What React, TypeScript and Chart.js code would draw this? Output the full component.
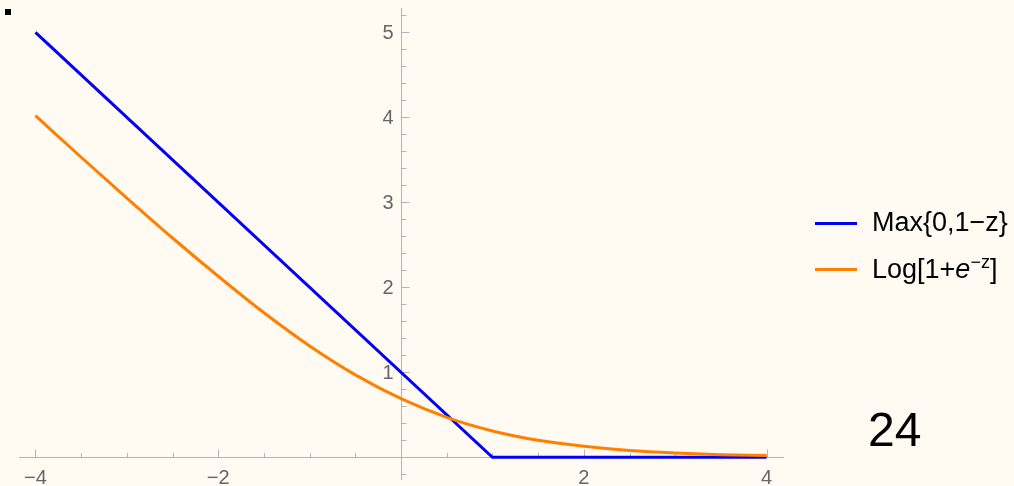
import React, { useEffect, useRef } from "react";
import { Chart, registerables } from "chart.js";

Chart.register(...registerables);

// ---- data ----
const hingeZ = [-4, 1, 4];
const hingeLoss = [5, 0, 0];
const logZ = [-4, -3.5, -3, -2.5, -2, -1.5, -1, -0.5, 0, 0.5, 1, 1.5, 2, 2.5, 3, 3.5, 4];
const logLoss = [4.02, 3.53, 3.05, 2.58, 2.13, 1.7, 1.31, 0.97, 0.69, 0.47, 0.31, 0.2, 0.13, 0.08, 0.05, 0.03, 0.02];
const xMajorTicks = [-4, -2, 2, 4];
const xMinorTicks = [-3.5, -3, -2.5, -1.5, -1, -0.5, 0.5, 1, 1.5, 2.5, 3, 3.5];
const yMajorTicks = [1, 2, 3, 4, 5];
const yMinorTicks = [-0.2, 0.2, 0.4, 0.6, 0.8, 1.2, 1.4, 1.6, 1.8, 2.2, 2.4, 2.6, 2.8, 3.2, 3.4, 3.6, 3.8, 4.2, 4.4, 4.6, 4.8, 5.2];
const seriesNames = ["Max{0,1\u2212z}", "Log[1+e^\u2212z]"];
const cornerLabel = "24";

const BG = "#FFFAF2";
const BLUE = "#0000F5";
const ORANGE = "#FF8000";
const AXIS = "#B3B3B3";
const LABEL = "#666666";
const FONT = '"Liberation Sans", Arial, Helvetica, sans-serif';

const fmt = (v: number) => (v < 0 ? "\u2212" + Math.abs(v) : String(v));

const axesPlugin = {
  id: "mmaAxes",
  beforeDatasetsDraw(chart: any) {
    const { ctx } = chart;
    const xs = chart.scales.x;
    const ys = chart.scales.y;
    const x0 = Math.round(xs.getPixelForValue(0)) + 0.5;
    const y0 = Math.round(ys.getPixelForValue(0)) + 0.5;
    ctx.save();
    ctx.strokeStyle = AXIS;
    ctx.lineWidth = 1;
    ctx.beginPath();
    ctx.moveTo(xs.left, y0);
    ctx.lineTo(xs.right, y0);
    ctx.moveTo(x0, ys.top);
    ctx.lineTo(x0, ys.bottom);
    // x ticks (pointing up)
    xMajorTicks.forEach((v) => {
      const p = Math.round(xs.getPixelForValue(v)) + 0.5;
      ctx.moveTo(p, y0);
      ctx.lineTo(p, y0 - 8);
    });
    xMinorTicks.forEach((v) => {
      const p = Math.round(xs.getPixelForValue(v)) + 0.5;
      ctx.moveTo(p, y0);
      ctx.lineTo(p, y0 - 4.5);
    });
    // y ticks (pointing right)
    yMajorTicks.forEach((v) => {
      const p = Math.round(ys.getPixelForValue(v)) + 0.5;
      ctx.moveTo(x0, p);
      ctx.lineTo(x0 + 8, p);
    });
    yMinorTicks.forEach((v) => {
      const p = Math.round(ys.getPixelForValue(v)) + 0.5;
      ctx.moveTo(x0, p);
      ctx.lineTo(x0 + 5, p);
    });
    ctx.stroke();

    ctx.fillStyle = LABEL;
    ctx.font = `20px ${FONT}`;
    ctx.textAlign = "center";
    ctx.textBaseline = "alphabetic";
    xMajorTicks.forEach((v) => {
      ctx.fillText(fmt(v), xs.getPixelForValue(v), y0 + 26);
    });
    ctx.textAlign = "right";
    ctx.textBaseline = "middle";
    yMajorTicks.forEach((v) => {
      ctx.fillText(fmt(v), x0 - 8, ys.getPixelForValue(v) + 1);
    });
    ctx.restore();
  },
};

export default function App() {
  const canvasRef = useRef<HTMLCanvasElement | null>(null);

  useEffect(() => {
    document.body.style.margin = "0";
    const canvas = canvasRef.current;
    if (!canvas) return;
    const chart = new Chart(canvas, {
      type: "line",
      data: {
        datasets: [
          {
            label: seriesNames[0],
            data: hingeZ.map((z, i) => ({ x: z, y: hingeLoss[i] })),
            borderColor: BLUE,
            borderWidth: 3,
            pointRadius: 0,
            tension: 0,
            order: 2,
            borderJoinStyle: "miter",
          },
          {
            label: seriesNames[1],
            data: logZ.map((z, i) => ({ x: z, y: logLoss[i] })),
            borderColor: ORANGE,
            borderWidth: 3,
            pointRadius: 0,
            cubicInterpolationMode: "monotone",
            order: 1,
          },
        ],
      },
      options: {
        animation: false,
        responsive: false,
        devicePixelRatio: 1,
        layout: { padding: { left: 19, right: 230, top: 8, bottom: 6 } },
        plugins: { legend: { display: false }, tooltip: { enabled: false } },
        scales: {
          x: { type: "linear", min: -4.18, max: 4.19, display: false },
          y: { type: "linear", min: -0.267, max: 5.286, display: false },
        },
      },
      plugins: [axesPlugin],
    } as any);
    return () => chart.destroy();
  }, []);

  return (
    <div
      style={{
        position: "fixed",
        left: 0,
        top: 0,
        width: 1014,
        height: 486,
        background: BG,
        overflow: "hidden",
        fontFamily: FONT,
      }}
    >
      <canvas ref={canvasRef} width={1014} height={486} style={{ position: "absolute", left: 0, top: 0 }} />
      <div style={{ position: "absolute", left: 5, top: 9, width: 6, height: 6, background: "#000" }} />
      <div style={{ position: "absolute", left: 815, top: 222, width: 42, height: 3, background: BLUE }} />
      <div style={{ position: "absolute", left: 815, top: 268, width: 42, height: 3, background: ORANGE }} />
      <div
        style={{ position: "absolute", left: 872, top: 209, fontSize: 27, lineHeight: "27px", color: "#000", whiteSpace: "nowrap" }}
      >
        {seriesNames[0]}
      </div>
      <div
        style={{ position: "absolute", left: 872, top: 256, fontSize: 27, lineHeight: "27px", color: "#000", whiteSpace: "nowrap" }}
      >
        Log[1+<span style={{ fontStyle: "italic" }}>e</span>
        <span style={{ fontSize: 18, position: "relative", top: -10 }}>{"\u2212z"}</span>]
      </div>
      <div
        style={{ position: "absolute", left: 868, top: 406, fontSize: 48, lineHeight: "48px", color: "#000" }}
      >
        {cornerLabel}
      </div>
    </div>
  );
}
